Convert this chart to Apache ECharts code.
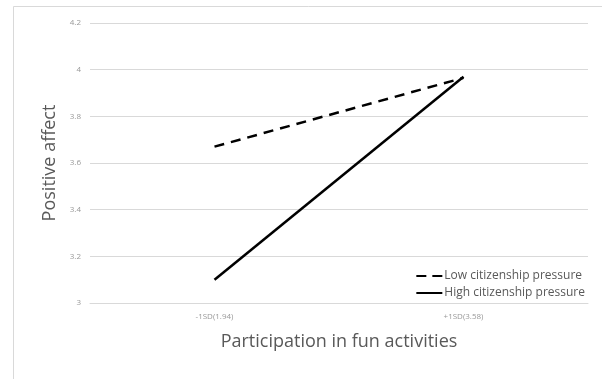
<!DOCTYPE html>
<html>
<head>
<meta charset="utf-8">
<script src="https://cdn.jsdelivr.net/npm/echarts@6/dist/echarts.min.js"></script>
<style>
  html, body { margin: 0; padding: 0; background: #fff; }
  #chart { width: 602px; height: 379px; }
</style>
</head>
<body>
<div id="chart"></div>
<script>
// Participation levels (mean ± 1 SD)
var categories = ['-1SD(1.94)', '+1SD(3.58)'];
// Simple slopes of positive affect
var lowPressure = [3.67, 3.965];
var highPressure = [3.10, 3.97];
var seriesNames = ['Low citizenship pressure', 'High citizenship pressure'];

var chart = echarts.init(document.getElementById('chart'), null, { renderer: 'canvas' });
var textFont = '"Open Sans", "Noto Sans", sans-serif';

chart.setOption({
  backgroundColor: '#ffffff',
  animation: false,
  graphic: [{
    type: 'rect',
    left: 11, top: 4,
    shape: { width: 600, height: 400 },
    style: { fill: 'none', stroke: '#d9d9d9', lineWidth: 1 },
    silent: true
  }],
  grid: { left: 90, right: 14, top: 23, bottom: 76 },
  legend: {
    right: 12, top: 265,
    orient: 'vertical',
    itemWidth: 26, itemHeight: 10, itemGap: 5,
    itemStyle: { opacity: 0 },
    textStyle: { fontFamily: textFont, fontSize: 12, color: '#595959', padding: [0, 0, 0, -3] },
    data: [
      { name: seriesNames[0], lineStyle: { type: [10, 6] } },
      { name: seriesNames[1] }
    ]
  },
  xAxis: {
    type: 'category',
    data: categories,
    boundaryGap: true,
    axisLine: { show: true, lineStyle: { color: '#d9d9d9', width: 1 } },
    axisTick: { show: false },
    axisLabel: { color: '#999999', fontSize: 8, fontFamily: textFont, margin: 10 },
    name: 'Participation in fun activities',
    nameLocation: 'middle',
    nameGap: 30,
    nameTextStyle: { color: '#595959', fontSize: 18, fontFamily: textFont }
  },
  yAxis: {
    type: 'value',
    min: 3, max: 4.2, interval: 0.2,
    axisLine: { show: false },
    axisTick: { show: false },
    splitLine: { lineStyle: { color: '#d9d9d9', width: 1 } },
    axisLabel: { color: '#999999', fontSize: 8, fontFamily: textFont, margin: 9,
      formatter: function (v) { return String(Math.round(v * 10) / 10); } },
    name: 'Positive affect',
    nameLocation: 'middle',
    nameGap: 28,
    nameTextStyle: { color: '#595959', fontSize: 18, fontFamily: textFont }
  },
  series: [{
    name: seriesNames[0],
    type: 'line',
    data: lowPressure,
    symbol: 'none',
    lineStyle: { color: '#000', width: 2.5, type: [10, 7] },
    itemStyle: { color: '#000' }
  }, {
    name: seriesNames[1],
    type: 'line',
    data: highPressure,
    symbol: 'none',
    lineStyle: { color: '#000', width: 2.5, type: 'solid' },
    itemStyle: { color: '#000' }
  }]
});
</script>
</body>
</html>
